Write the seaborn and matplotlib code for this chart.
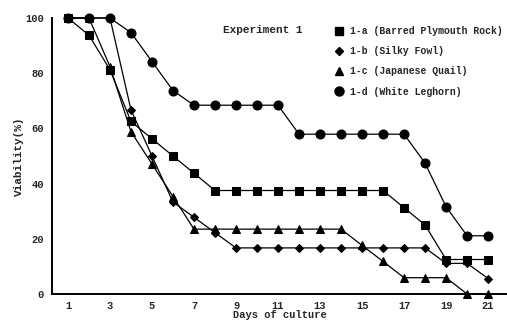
import matplotlib
matplotlib.use("Agg")
import matplotlib.pyplot as plt
from matplotlib.lines import Line2D
import seaborn as sns
import pandas as pd

days = list(range(1, 22))
series_a = [100, 93.75, 81.25, 62.5, 56.25, 50, 43.75, 37.5, 37.5, 37.5, 37.5, 37.5, 37.5, 37.5, 37.5, 37.5, 31.25, 25, 12.5, 12.5, 12.5]
series_b = [100, 100, 100, 66.7, 50, 33.3, 27.8, 22.2, 16.7, 16.7, 16.7, 16.7, 16.7, 16.7, 16.7, 16.7, 16.7, 16.7, 11.1, 11.1, 5.6]
series_c = [100, 100, 82.4, 58.8, 47.1, 35.3, 23.5, 23.5, 23.5, 23.5, 23.5, 23.5, 23.5, 23.5, 17.6, 11.8, 5.9, 5.9, 5.9, 0, 0]
series_d = [100, 100, 100, 94.7, 84.2, 73.7, 68.4, 68.4, 68.4, 68.4, 68.4, 57.9, 57.9, 57.9, 57.9, 57.9, 57.9, 47.4, 31.6, 21.1, 21.1]
labels = ["1-a (Barred Plymouth Rock)", "1-b (Silky Fowl)", "1-c (Japanese Quail)", "1-d (White Leghorn)"]
markers = ["s", "D", "^", "o"]
marker_sizes = [6, 4.5, 6, 6.5]
xticks = list(range(1, 22, 2))
yticks = [0, 20, 40, 60, 80, 100]

frames = []
for lab, vals in zip(labels, [series_a, series_b, series_c, series_d]):
    frames.append(pd.DataFrame({"day": days, "viability": vals, "group": lab}))
df = pd.concat(frames, ignore_index=True)

sns.set_style("white")
FONT = "Liberation Mono"
plt.rcParams["font.family"] = [FONT, "DejaVu Sans"]
plt.rcParams["font.weight"] = "bold"

W, H = 507, 322
fig = plt.figure(figsize=(W / 100, H / 100), dpi=100)
ax = fig.add_axes([52 / W, 28 / H, 1 - 52 / W, 276 / H])

for lab, mk, ms in zip(labels, markers, marker_sizes):
    sub = df[df["group"] == lab]
    sns.lineplot(data=sub, x="day", y="viability", ax=ax, color="black",
                 marker=mk, markersize=ms, markeredgecolor="black",
                 linewidth=0.9, legend=False, clip_on=False, zorder=3)

ax.set_xlim(0.24, 21.9)
ax.set_ylim(0, 100)
ax.set_xticks(xticks)
ax.set_xticks(days, minor=True)
ax.set_yticks(yticks)
ax.tick_params(axis="x", which="major", direction="in", length=3, width=0.8, pad=5, labelsize=7.5)
ax.tick_params(axis="x", which="minor", direction="in", length=3, width=0.8)
ax.tick_params(axis="y", which="major", direction="in", length=7, width=0.8, pad=6, labelsize=7.5)
for lbl in ax.get_xticklabels() + ax.get_yticklabels():
    lbl.set_fontweight("bold")

for s in ["top", "right"]:
    ax.spines[s].set_visible(False)
for s in ["left", "bottom"]:
    ax.spines[s].set_linewidth(1.4)
    ax.spines[s].set_color("black")

ax.set_xlabel("Days of culture", fontsize=7.5, fontweight="bold", labelpad=-1)
ax.set_ylabel("Viability(%)", fontsize=8, fontweight="bold", labelpad=1)

fig.text(223 / W, 1 - 30 / H, "Experiment 1", fontsize=8, fontweight="bold",
         va="center", ha="left")

handles = [Line2D([], [], linestyle="none", marker=m, color="black", markersize=ms)
           for m, ms in zip(markers, marker_sizes)]
leg = ax.legend(handles, labels, loc="upper left", bbox_to_anchor=(335 / W, 1 - 26 / H),
                bbox_transform=fig.transFigure, frameon=False, handlelength=0.8,
                handletextpad=0.75, labelspacing=1.05, borderpad=0, borderaxespad=0,
                prop={"family": FONT, "weight": "bold", "size": 7})

fig.savefig("out.png", dpi=100)
